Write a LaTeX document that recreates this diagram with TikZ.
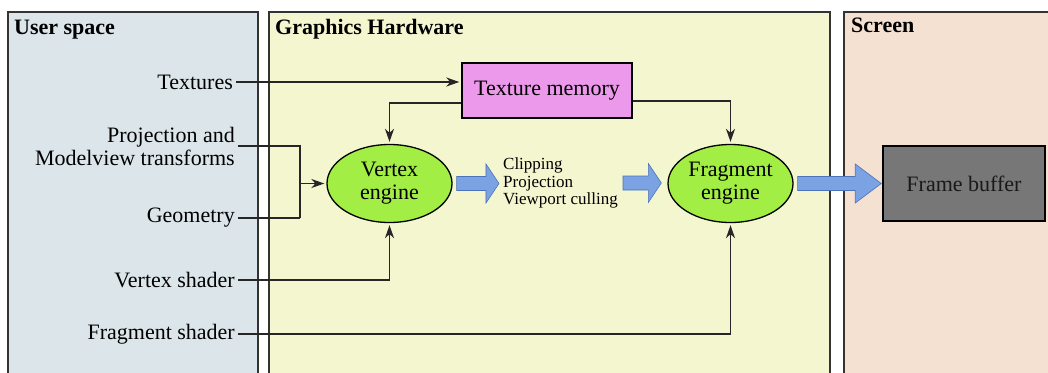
\documentclass[tikz,border=0pt]{standalone}
\usepackage{fontspec}
\setmainfont{Liberation Serif}
\usetikzlibrary{arrows.meta,calc,shapes.geometric}

\definecolor{userbg}{HTML}{DCE6EA}
\definecolor{hwbg}{HTML}{F4F6D0}
\definecolor{screenbg}{HTML}{F5E1D2}
\definecolor{texmem}{HTML}{EC99EC}
\definecolor{engine}{HTML}{A3EE45}
\definecolor{flow}{HTML}{7BA3E3}
\definecolor{flowedge}{HTML}{4C72B8}
\definecolor{fbgray}{HTML}{777777}
\definecolor{paneledge}{HTML}{333333}

% wide block arrow between two points on one horizontal line
\newcommand\fatarrow[3]{%
  \path let \p1=(#1), \p2=(#2) in
    [fill=flow, draw=flowedge, line width=0.6pt, line join=miter]
    (\x1,\y1+7pt) -- (\x2-#3,\y1+7pt) -- (\x2-#3,\y1+19.5pt) -- (\x2,\y1)
    -- (\x2-#3,\y1-19.5pt) -- (\x2-#3,\y1-7pt) -- (\x1,\y1-7pt) -- cycle;}

\tikzset{
  panel/.style={draw=paneledge, line width=1.5pt},
  paneltitle/.style={anchor=base west, inner sep=0pt, font=\fontsize{22}{23}\selectfont\bfseries},
  source/.style={anchor=east, inner sep=3pt, align=right},
  engbox/.style={ellipse, draw, line width=1.3pt, fill=engine, minimum width=125pt,
    minimum height=78pt, inner sep=0pt, align=center},
  link/.style={draw=black!85, line width=1.6pt},
  tipshape/.tip={Stealth[length=13pt,width=9pt,inset=4pt]},
  feed/.style={link, -tipshape, shorten >=2pt},
}

\begin{document}
\begin{tikzpicture}[x=1pt, y=-1pt, font=\fontsize{22}{23}\selectfont]
\useasboundingbox (0,0) rectangle (1048,372);

% three regions
\draw[panel, fill=userbg]   (8,12)   rectangle (258,385);
\draw[panel, fill=hwbg]     (269,12) rectangle (830,385);
\draw[panel, fill=screenbg] (844,12) rectangle (1060,385);
\node[paneltitle] (tuser) at (14,34)  {User space};
\node[paneltitle] (thw)   at (275,34) {Graphics Hardware};
\node[paneltitle] (tscr)  at (851,32) {Screen};

% inputs from the application
\node[source] (tex)  at (236,82)  {Textures};
\node[source] (proj) at (238,146) {Projection and\\Modelview transforms};
\node[source] (geo)  at (238,218) {Geometry};
\node[source] (vsh)  at (238,280) {Vertex shader};
\node[source] (fsh)  at (238,334) {Fragment shader};

% hardware blocks
\node[draw, line width=1.4pt, fill=texmem, minimum width=170pt, minimum height=55pt,
      inner sep=0pt] (tm) at (547,90.5) {Texture memory};
\node[engbox] (ve) at (389.5,183.5) {Vertex\\engine};
\node[engbox] (fe) at (730.5,183.5) {Fragment\\engine};
\node[align=left, inner sep=0pt, font=\fontsize{17}{17.5}\selectfont] (clip) at (560.5,183)
  {Clipping\\Projection\\Viewport culling};

% screen
\node[draw, line width=1.5pt, fill=fbgray, text=black!90, minimum width=162pt,
      minimum height=75pt, inner sep=0pt] (fb) at (964,183.5) {Frame buffer};

% connectors
\coordinate (join) at (300,218);
\draw[link] (proj.east) -| (join);
\draw[link] (geo.east) -- (join);
\draw[feed] (join |- ve.west) -- (ve.west);
\draw[feed] (tex.east) -- (tex.east -| tm.west);
\draw[feed] ($(tm.south west)+(0,-16)$) -| (ve.north);
\draw[feed] ($(tm.south east)+(0,-18)$) -| (fe.north);
\draw[feed] (vsh.east) -| (ve.south);
\draw[feed] (fsh.east) -| (fe.south);

% data flow
\fatarrow{$(ve.east)+(4,0)$}{$(clip.west)+(-4,0)$}{13pt}
\fatarrow{$(clip.east)+(5,0)$}{$(fe.west)+(-6,0)$}{13pt}
\fatarrow{$(fe.east)+(4,0)$}{$(fb.west)+(-1,0)$}{26pt}
\end{tikzpicture}
\end{document}
